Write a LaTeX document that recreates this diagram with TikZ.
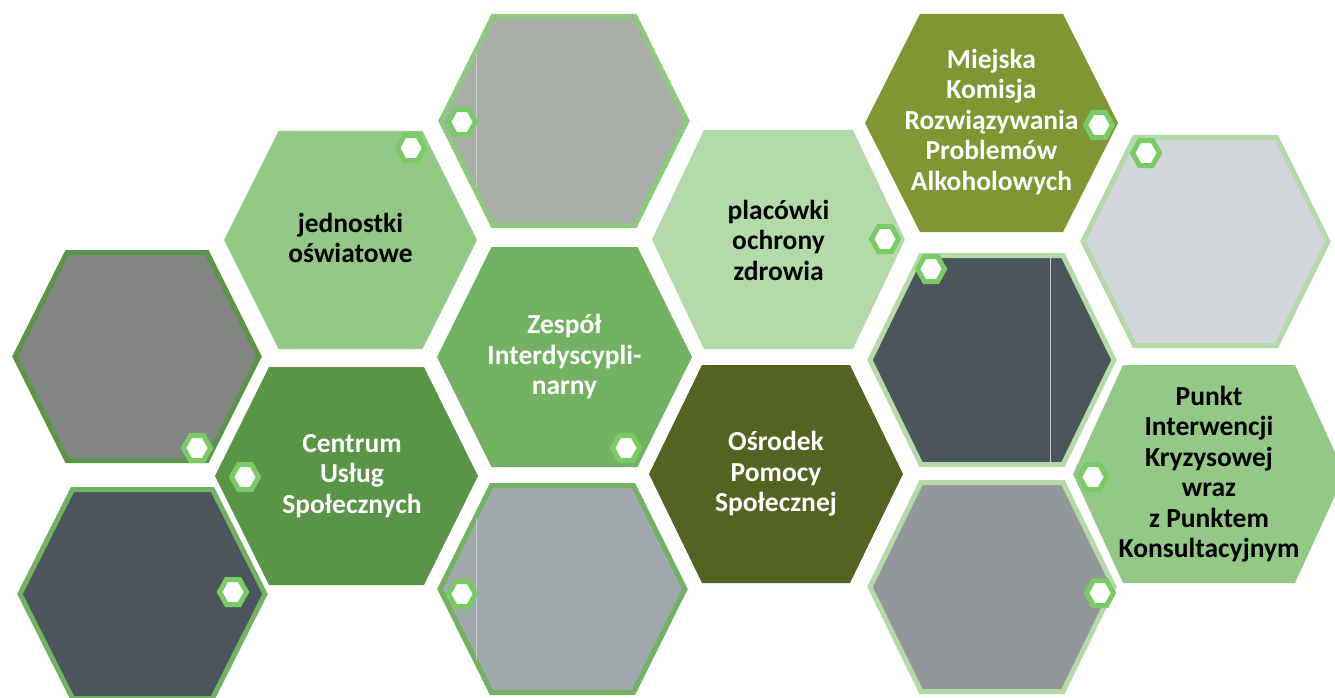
\documentclass[tikz,border=0pt]{standalone}
\usepackage{fontspec}
\setmainfont{Carlito}
\definecolor{cJed}{HTML}{93C886}
\definecolor{cZes}{HTML}{72B262}
\definecolor{cPla}{HTML}{B3DBA9}
\definecolor{cMie}{HTML}{7F9632}
\definecolor{cCen}{HTML}{5A9447}
\definecolor{cOsr}{HTML}{556322}
\definecolor{cPun}{HTML}{93C886}
\definecolor{gA}{HTML}{838583}
\definecolor{gB}{HTML}{A9ADA8}
\definecolor{gC}{HTML}{D3D6DB}
\definecolor{gD}{HTML}{4B555B}
\definecolor{gE}{HTML}{939799}
\definecolor{gF}{HTML}{4B555B}
\definecolor{gG}{HTML}{A2A9AC}
\definecolor{bB}{HTML}{8DC97F}
\definecolor{bLight}{HTML}{B3DBA9}
\definecolor{cSmall}{HTML}{7ACB66}
\definecolor{cSeam}{HTML}{C9CDCD}
% style, cx, cy, half-width, half top edge, half-height
\newcommand\HexShape[6]{%
  \path[#1, shift={(#2,#3)}] (-#4,0) -- (-#5,-#6) -- (#5,-#6) -- (#4,0) -- (#5,#6) -- (-#5,#6) -- cycle;}
\newcommand\SmallHex[2]{\HexShape{smallhex}{#1}{#2}{13.5}{6.5}{12.5}}
\tikzset{
  photo/.style={line width=5pt},
  smallhex/.style={fill=white, draw=cSmall, line width=5pt},
  seam/.style={draw=cSeam, line width=0.8pt},
  lbl/.style={align=center, inner sep=0pt, font=\bfseries\fontsize{27.5}{30.5}\selectfont},
  lblw/.style={lbl, text=white},
  lblb/.style={lbl, text=black}
}
\begin{document}
\begin{tikzpicture}[x=1pt, y=-1pt]
\useasboundingbox (0,0) rectangle (1335,698);
\clip (0,0) rectangle (1335,698);
% picture hexagons
\HexShape{photo, fill=gA, draw=cCen}{137}{356.5}{122}{70}{104}
\HexShape{photo, fill=gB, draw=bB}{564}{121}{123}{71}{104.5}
\HexShape{photo, fill=gC, draw=bLight}{1205.5}{241.5}{122.5}{71}{104}
\HexShape{photo, fill=gD, draw=bLight}{992}{360}{122}{71}{104.5}
\HexShape{photo, fill=gE, draw=bLight}{992}{587}{122}{71}{104.5}
\HexShape{photo, fill=gF, draw=cZes}{142.5}{594}{122.5}{70}{104.5}
\HexShape{photo, fill=gG, draw=cZes}{562.5}{589}{122.5}{71}{103.5}
\coordinate (sB1) at (476,55);   \coordinate (sB2) at (476,187);
\coordinate (sG1) at (476.5,518); \coordinate (sG2) at (476.5,660);
\coordinate (sD1) at (1050,257); \coordinate (sD2) at (1050,463);
\draw[seam] (sB1) -- (sB2);
\draw[seam] (sG1) -- (sG2);
\draw[seam] (sD1) -- (sD2);
% text hexagons
\HexShape{fill=cJed}{350.5}{240}{126.5}{72}{109}
\HexShape{fill=cZes}{564.5}{357}{127.5}{73}{110}
\HexShape{fill=cPla}{778.5}{239.5}{126.5}{74.5}{109.5}
\HexShape{fill=cMie}{991.5}{123}{126.5}{71.5}{109}
\HexShape{fill=cCen}{346.5}{476}{131.5}{77.5}{109}
\HexShape{fill=cOsr}{776}{474}{127}{74}{109}
\HexShape{fill=cPun}{1209}{474}{136}{86}{109}
% labels
\node[lblb] (jed) at (350.5,238) {jednostki\\oświatowe};
\node[lblw] (zes) at (564.5,357) {Zespół\\Interdyscypli-\\narny};
\node[lblb] (pla) at (778.5,240) {placówki\\ochrony\\zdrowia};
\node[lblw] (mie) at (991.5,122) {Miejska\\Komisja\\Rozwiązywania\\Problemów\\Alkoholowych};
\node[lblw] (cen) at (352,476) {Centrum\\Usług\\Społecznych};
\node[lblw] (osr) at (776,474) {Ośrodek\\Pomocy\\Społecznej};
\node[lblb] (pun) at (1209,474) {Punkt\\Interwencji\\Kryzysowej\\wraz\\z Punktem\\Konsultacyjnym};
% small hexagons
\SmallHex{411}{148}
\SmallHex{462}{122}
\SmallHex{1099}{125}
\SmallHex{1146}{153}
\SmallHex{885}{239}
\SmallHex{931}{269}
\SmallHex{197}{448}
\SmallHex{245}{477}
\SmallHex{626}{448}
\SmallHex{233}{592}
\SmallHex{462}{594}
\SmallHex{1093}{477}
\SmallHex{1100}{593}
\end{tikzpicture}
\end{document}
